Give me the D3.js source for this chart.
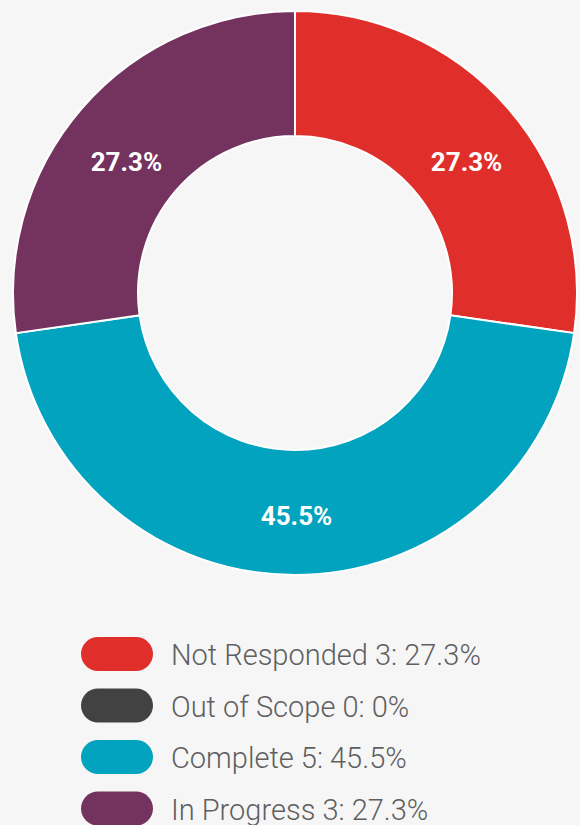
<!DOCTYPE html>
<html>
<head>
<meta charset="utf-8">
<script src="https://cdn.jsdelivr.net/npm/d3@7"></script>
<style>
  body { margin: 0; background: #f6f6f6; }
  svg { display: block; }
</style>
</head>
<body>
<svg id="chart"></svg>
<script>
// chart data
let categories = ["Not Responded", "Out of Scope", "Complete", "In Progress"]
let counts = [3, 0, 5, 3]
let percents = ["27.3%", "0%", "45.5%", "27.3%"]
let colors = ["#e02e2b", "#424242", "#02a3be", "#74325f"]

let width = 580, height = 825
let svg = d3.select("#chart").attr("width", width).attr("height", height)

// donut
let cx = 295, cy = 293, outerR = 282, innerR = 157

let pie = d3.pie().sort(null).value(d => d)
let arcs = pie(counts)
let arc = d3.arc().innerRadius(innerR).outerRadius(outerR)

let g = svg.append("g").attr("transform", "translate(" + cx + "," + cy + ")")

g.selectAll("path")
    .data(arcs.filter(d => d.value > 0))
    .enter().append("path")
    .attr("d", arc)
    .attr("fill", d => colors[d.index])
    .attr("stroke", "#ffffff")
    .attr("stroke-width", 2)

// percentage labels near slice centroids (nudged to sit like the original)
let midR = (innerR + outerR) / 2
g.selectAll("text")
    .data(arcs.filter(d => d.value > 0))
    .enter().append("text")
    .attr("transform", d => {
        let c = arc.centroid(d)
        return "translate(" + (c[0] * 225 / midR + 1.5) + "," + (c[1] * 214 / midR + 9) + ")"
    })
    .attr("text-anchor", "middle")
    .attr("dominant-baseline", "central")
    .style("font-family", "Roboto")
    .style("font-weight", "bold")
    .style("font-size", "26px")
    .style("fill", "#ffffff")
    .text(d => percents[d.index])

// legend
let legendY = d3.scaleBand().domain(categories).range([637, 843]).paddingInner(0)
let legend = svg.append("g")

let items = legend.selectAll("g")
    .data(categories)
    .enter().append("g")
    .attr("transform", d => "translate(0," + legendY(d) + ")")

items.append("rect")
    .attr("x", 81).attr("y", 0)
    .attr("width", 72).attr("height", 34)
    .attr("rx", 17).attr("ry", 17)
    .attr("fill", (d, i) => colors[i])

items.append("text")
    .attr("x", 171).attr("y", 28)
    .style("font-family", "Roboto")
    .style("font-weight", 300)
    .style("font-size", "29px")
    .style("fill", "#5f5f5f")
    .text((d, i) => d + " " + counts[i] + ": " + percents[i])
</script>
</body>
</html>
